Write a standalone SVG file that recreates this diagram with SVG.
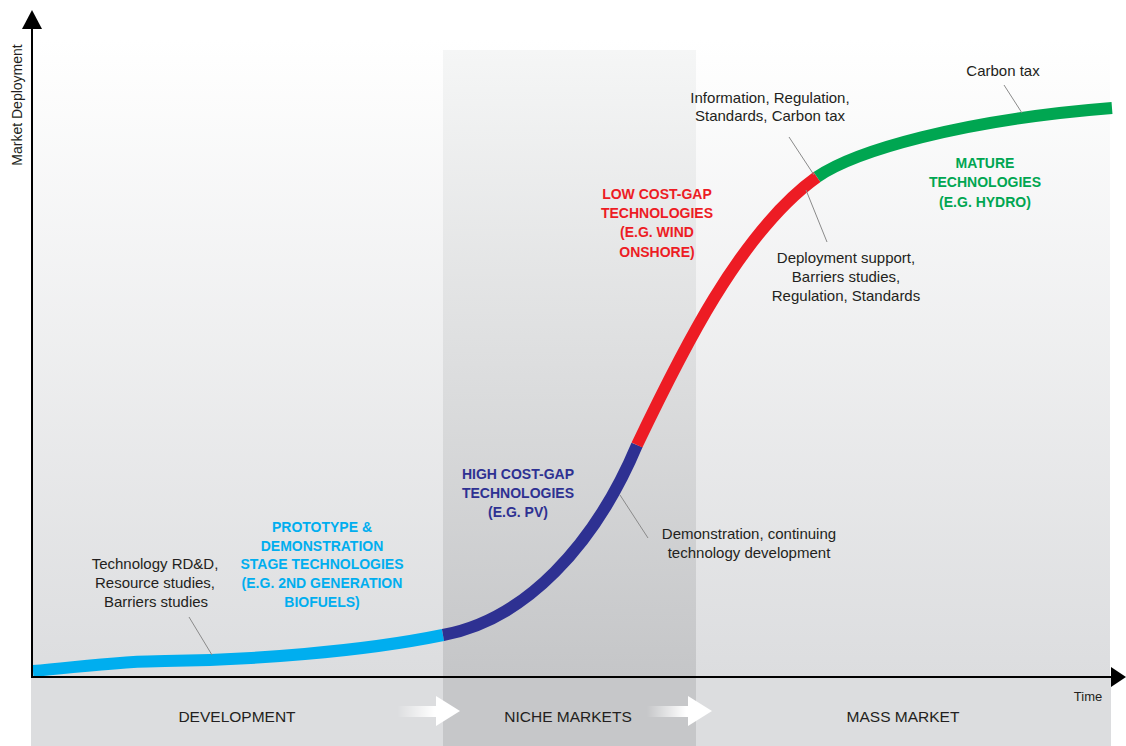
<svg xmlns="http://www.w3.org/2000/svg" width="1126" height="746" viewBox="0 0 1126 746">
<style>
.t{font-family:"Liberation Sans",Arial,sans-serif;font-size:15px;fill:#231f20;text-anchor:middle}
.b{font-family:"Liberation Sans",Arial,sans-serif;font-size:14px;font-weight:bold;text-anchor:middle}
.band{font-family:"Liberation Sans",Arial,sans-serif;font-size:15.5px;fill:#231f20;text-anchor:middle}
.lead{stroke:#8a8a8a;stroke-width:1;fill:none}
.seg{fill:none;stroke-width:12;stroke-linecap:butt}
</style>
<defs>
<linearGradient id="bg" x1="0" y1="0" x2="0" y2="1">
<stop offset="0" stop-color="#ffffff"/>
<stop offset="1" stop-color="#dcdddf"/>
</linearGradient>
<linearGradient id="niche" x1="0" y1="0" x2="0" y2="1">
<stop offset="0" stop-color="#f5f6f6"/>
<stop offset="1" stop-color="#c5c6c8"/>
</linearGradient>
<linearGradient id="arr" x1="0" y1="0" x2="1" y2="0">
<stop offset="0" stop-color="#ffffff" stop-opacity="0"/>
<stop offset="0.6" stop-color="#ffffff" stop-opacity="1"/>
<stop offset="1" stop-color="#ffffff" stop-opacity="1"/>
</linearGradient>
</defs>
<rect width="1126" height="746" fill="#ffffff"/>
<g id="background">
<rect x="33" y="40" width="1077" height="637" fill="url(#bg)"/>
<rect x="443" y="50" width="253" height="627" fill="url(#niche)"/>
<rect x="31" y="678" width="1080" height="68" fill="#dcdddf"/>
<rect x="443" y="678" width="253" height="68" fill="#c6c7c9"/>
</g>
<g id="phase-arrows">
<path d="M397,706 H436 V696 L460,711 L436,726 V717 H397 Z" fill="url(#arr)"/>
<path d="M647,706 H688 V696 L712,711 L688,726 V717 H647 Z" fill="url(#arr)"/>
</g>
<g id="connectors">
<path class="seg" stroke="#00aeef" d="M33,671 C80,667 120,661 165,661 C250,660 360,652 443,635"/>
<path class="seg" stroke="#2e3192" d="M443,635 C525,620 595,545 637,445"/>
<path class="seg" stroke="#ed1c24" d="M637,445 C680,355 740,232 817,177"/>
<path class="seg" stroke="#00a651" d="M817,177 C855,151 960,120 1112,108"/>
<line class="lead" x1="189" y1="617" x2="212" y2="655"/>
<line class="lead" x1="620" y1="495" x2="648" y2="538"/>
<line class="lead" x1="789" y1="137" x2="814" y2="175"/>
<line class="lead" x1="806" y1="190" x2="827" y2="242"/>
<line class="lead" x1="1004" y1="85" x2="1022" y2="113"/>
</g>
<g id="axes">
<line x1="32" y1="677" x2="32" y2="26" stroke="#000" stroke-width="2"/>
<polygon points="32,10 22,29 42,29" fill="#000"/>
<line x1="31" y1="677" x2="1112" y2="677" stroke="#000" stroke-width="2"/>
<polygon points="1126,677 1111,667 1111,687" fill="#000"/>
<text class="t" transform="translate(22,105) rotate(-90)" style="font-size:14px">Market Deployment</text>
<text class="t" x="1088" y="701" style="font-size:13px">Time</text>
</g>
<g id="phase-development"><text class="band" x="237" y="722">DEVELOPMENT</text></g>
<g id="phase-niche"><text class="band" x="568" y="722">NICHE MARKETS</text></g>
<g id="phase-mass"><text class="band" x="903" y="722">MASS MARKET</text></g>
<g id="note-rdd">
<text class="t" x="155" y="569">Technology RD&amp;D,</text>
<text class="t" x="155" y="588">Resource studies,</text>
<text class="t" x="156" y="607">Barriers studies</text>
</g>
<g id="label-prototype" fill="#00aeef">
<text class="b" x="322" y="532">PROTOTYPE &amp;</text>
<text class="b" x="322" y="551">DEMONSTRATION</text>
<text class="b" x="322" y="569">STAGE TECHNOLOGIES</text>
<text class="b" x="322" y="588">(E.G. 2ND GENERATION</text>
<text class="b" x="322" y="607">BIOFUELS)</text>
</g>
<g id="label-high" fill="#2e3192">
<text class="b" x="518" y="479">HIGH COST-GAP</text>
<text class="b" x="518" y="498">TECHNOLOGIES</text>
<text class="b" x="518" y="517">(E.G. PV)</text>
</g>
<g id="note-demo">
<text class="t" x="749" y="539">Demonstration, continuing</text>
<text class="t" x="749" y="558">technology development</text>
</g>
<g id="label-low" fill="#ed1c24">
<text class="b" x="657" y="199">LOW COST-GAP</text>
<text class="b" x="657" y="218">TECHNOLOGIES</text>
<text class="b" x="657" y="237">(E.G. WIND</text>
<text class="b" x="657" y="257">ONSHORE)</text>
</g>
<g id="note-deploy">
<text class="t" x="846" y="263">Deployment support,</text>
<text class="t" x="846" y="282">Barriers studies,</text>
<text class="t" x="846" y="301">Regulation, Standards</text>
</g>
<g id="note-info">
<text class="t" x="770" y="103">Information, Regulation,</text>
<text class="t" x="770" y="121">Standards, Carbon tax</text>
</g>
<g id="note-carbon"><text class="t" x="1003" y="76">Carbon tax</text></g>
<g id="label-mature" fill="#00a651">
<text class="b" x="985" y="168">MATURE</text>
<text class="b" x="985" y="187">TECHNOLOGIES</text>
<text class="b" x="985" y="207">(E.G. HYDRO)</text>
</g>
</svg>
